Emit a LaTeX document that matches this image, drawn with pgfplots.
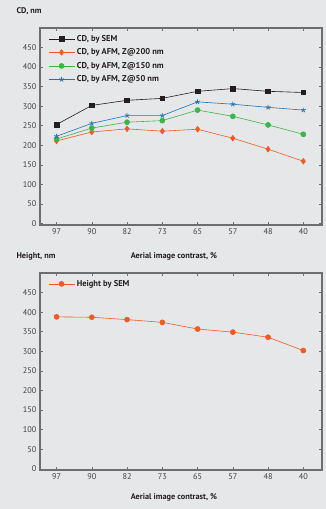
\documentclass[border=0pt]{standalone}
\usepackage{pgfplots}
\pgfplotsset{compat=1.18}
\usepackage{fontspec}
\setmainfont{PT Sans}
\definecolor{bg}{HTML}{E6E7E8}
\definecolor{axgray}{HTML}{6D6E71}
\definecolor{txt}{HTML}{414042}
\definecolor{cblack}{HTML}{231F20}
\definecolor{corange}{HTML}{F15A24}
\definecolor{cgreen}{HTML}{39B54A}
\definecolor{cblue}{HTML}{1C75BC}
\pgfplotsset{
  common/.style={
    scale only axis, width=282bp, anchor=south west,
    xmin=-0.47, xmax=7.53, ymax=500,
    xtick={0,...,7}, xticklabels={97,90,82,73,65,57,48,40},
    ytick={0,50,...,450},
    axis line style={axgray, line width=1.1bp},
    major tick style={axgray, line width=0.6bp},
    major tick length=3bp,
    tick label style={font=\fontsize{8.3}{10}\selectfont, text=txt},
    /pgf/number format/assume math mode=true,
    legend style={draw=none, fill=none, font=\bfseries\fontsize{8.5}{10}\selectfont, text=cblack, row sep=2bp, at={(0.018,0.985)}, anchor=north west},
    legend cell align=left,
    legend image code/.code={\draw[mark repeat=2,mark phase=2] plot coordinates {(0bp,0bp) (13bp,0bp) (26bp,0bp)};},
    every axis plot/.append style={line width=0.6bp},
  }
}
\begin{document}
\begin{tikzpicture}
\fill[bg] (0,0) rectangle (326bp,509bp);
\node[anchor=west, font=\bfseries\fontsize{8.3}{10}\selectfont, text=cblack] at (13bp,498bp) {CD, nm};
\node[font=\bfseries\fontsize{8.3}{10}\selectfont, text=cblack] at (174bp,253bp) {Aerial image contrast, \%};
\node[anchor=west, font=\bfseries\fontsize{8.3}{10}\selectfont, text=cblack] at (13bp,253bp) {Height, nm};
\node[font=\bfseries\fontsize{8.3}{10}\selectfont, text=cblack] at (174bp,12bp) {Aerial image contrast, \%};
\begin{axis}[common, at={(40bp,284bp)}, height=197bp, ymin=-4]
\addplot[cblack, mark=square*, mark size=2.3bp] coordinates {(0,253)(1,302)(2,315)(3,320)(4,338)(5,345)(6,338)(7,335)};
\addlegendentry{CD, by SEM}
\addplot[corange, mark=diamond*, mark size=2.8bp] coordinates {(0,211)(1,234)(2,242)(3,236)(4,241)(5,218)(6,190)(7,159)};
\addlegendentry{CD, by AFM, Z@200 nm}
\addplot[cgreen, mark=*, mark size=2.5bp] coordinates {(0,216)(1,244)(2,259)(3,263)(4,290)(5,274)(6,252)(7,228)};
\addlegendentry{CD, by AFM, Z@150 nm}
\addplot[cblue, mark=star, mark size=2.5bp, mark options={line width=0.8bp}] coordinates {(0,223)(1,256)(2,276)(3,276)(4,311)(5,305)(6,297)(7,290)};
\addlegendentry{CD, by AFM, Z@50 nm}
\end{axis}
\begin{axis}[common, at={(40bp,39bp)}, height=197bp, ymin=-3]
\addplot[corange, mark=*, mark size=2.5bp] coordinates {(0,388)(1,387)(2,381)(3,374)(4,357)(5,349)(6,336)(7,302)};
\addlegendentry{Height by SEM}
\end{axis}
\end{tikzpicture}
\end{document}
